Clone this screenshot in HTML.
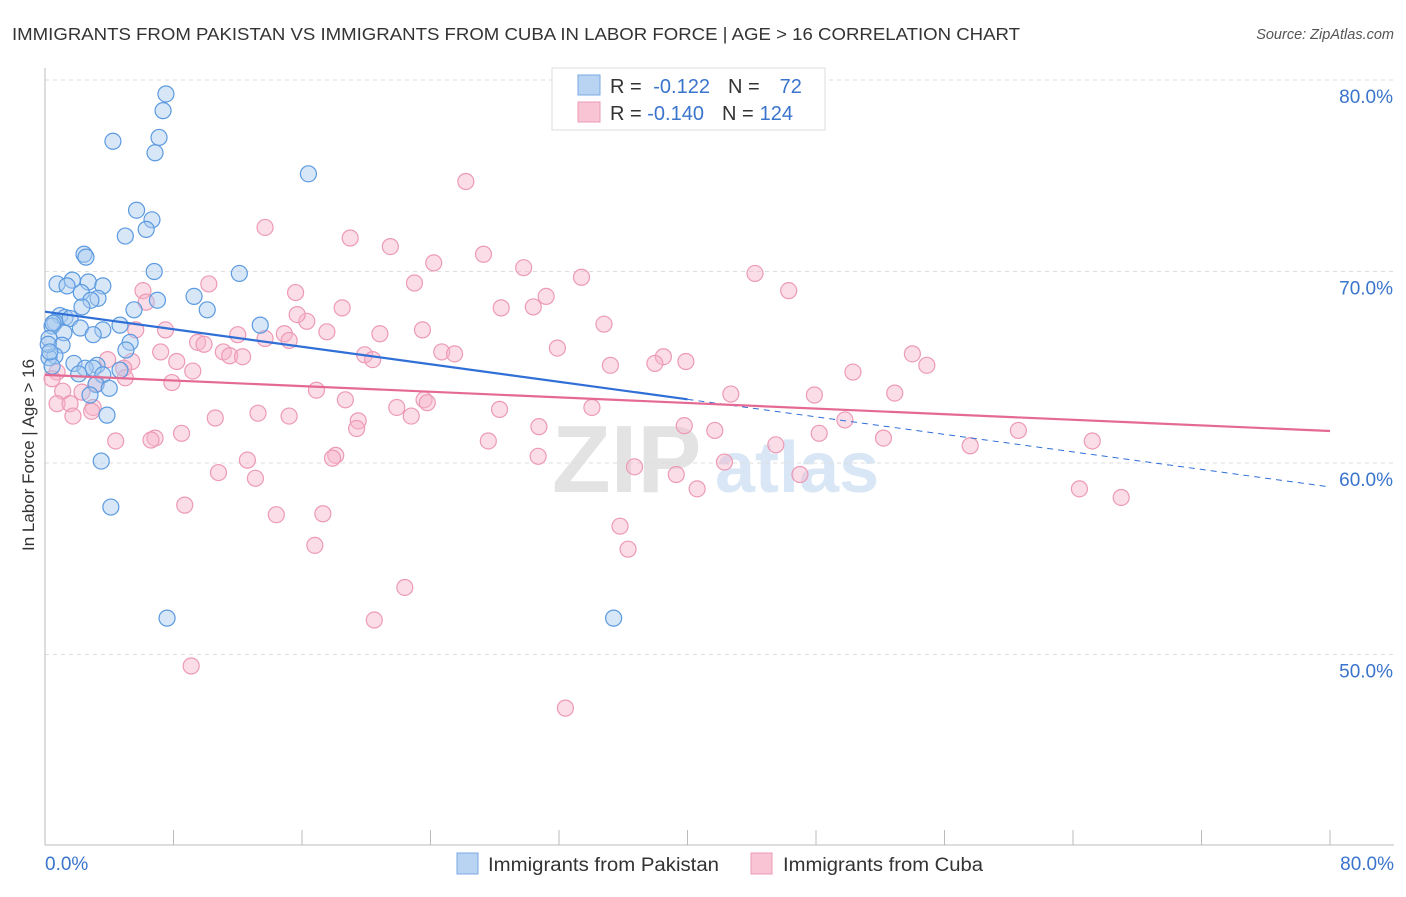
<!DOCTYPE html>
<html><head><meta charset="utf-8"><style>
body{margin:0;background:#fff;font-family:"Liberation Sans",sans-serif}
svg text{font-family:"Liberation Sans",sans-serif}
</style></head><body>
<svg id="c" width="1406" height="892" xmlns="http://www.w3.org/2000/svg">
<text x="12" y="40" font-size="17.5" fill="#333" textLength="1008" lengthAdjust="spacingAndGlyphs">IMMIGRANTS FROM PAKISTAN VS IMMIGRANTS FROM CUBA IN LABOR FORCE | AGE &gt; 16 CORRELATION CHART</text>
<text x="1394" y="39" font-size="14.5" fill="#555" font-style="italic" text-anchor="end">Source: ZipAtlas.com</text>
<text transform="translate(34,455) rotate(-90)" font-size="17" fill="#333" text-anchor="middle">In Labor Force | Age &gt; 16</text>
<g><text x="552" y="492" font-size="96" fill="#e3e3e3" font-family="Liberation Serif" font-weight="bold">ZIP</text><text x="715" y="492" font-size="72" fill="#d8e6f6" font-weight="bold">atlas</text></g>
<g id="grid"></g><g id="pts"></g><g id="trend"></g>
<g>
<rect x="552" y="68" width="273" height="62" fill="#fff" stroke="#ddd"/>
<rect x="578" y="75" width="22" height="20" fill="#b9d3f3" stroke="#7aa8e4"/>
<rect x="578" y="102" width="22" height="20" fill="#f9c5d5" stroke="#ec9ab5"/>
<text x="610" y="93" font-size="20" fill="#333">R = <tspan fill="#3a74cc" dx="6">-0.122</tspan><tspan dx="18" fill="#333">N =</tspan><tspan dx="20" fill="#3a74cc">72</tspan></text>
<text x="610" y="120" font-size="20" fill="#333">R = <tspan fill="#3a74cc">-0.140</tspan><tspan dx="18" fill="#333">N =</tspan><tspan dx="6" fill="#3a74cc">124</tspan></text>
</g>
<g>
<rect x="457" y="853" width="21" height="21" fill="#b9d3f3" stroke="#7aa8e4"/>
<text x="488" y="871" font-size="19" fill="#333" textLength="231" lengthAdjust="spacingAndGlyphs">Immigrants from Pakistan</text>
<rect x="751" y="853" width="21" height="21" fill="#f9c5d5" stroke="#ec9ab5"/>
<text x="783" y="871" font-size="19" fill="#333" textLength="200" lengthAdjust="spacingAndGlyphs">Immigrants from Cuba</text>
</g>
</svg>
<script>
const yTicks=[50,60,70,80];
const xTickLabels=["0.0%","80.0%"];
const pakX=[7.53,7.35,4.23,7.1,6.85,16.4,5.7,6.66,6.3,5.0,2.43,2.55,6.8,12.1,0.75,1.7,2.7,1.37,3.6,2.26,3.3,2.86,9.28,7.0,2.3,5.54,10.1,0.93,1.25,1.56,0.62,0.44,4.67,13.4,2.2,3.6,1.18,3.0,0.25,5.3,1.06,5.04,0.62,0.25,1.8,3.24,0.44,2.5,3.0,4.67,2.1,3.6,3.17,4.0,2.8,3.86,3.5,4.1,7.6,35.4,0.2,0.3,0.5];
const pakY=[79.27,78.4,76.8,77.0,76.2,75.1,73.2,72.7,72.2,71.85,70.9,70.75,70.0,69.9,69.35,69.55,69.45,69.25,69.25,68.9,68.6,68.5,68.7,68.5,68.15,68.0,68.0,67.7,67.6,67.55,67.35,67.15,67.2,67.2,67.05,66.95,66.8,66.7,66.5,66.3,66.15,65.9,65.6,65.5,65.2,65.1,65.05,64.95,64.95,64.85,64.65,64.6,64.1,63.9,63.55,62.5,60.1,57.7,51.9,51.9,66.2,65.8,67.3];
const cubX=[26.2,13.7,19.0,21.5,27.3,24.2,29.8,44.2,33.4,23.0,10.2,46.3,6.1,15.6,31.2,6.3,30.4,28.4,18.5,16.3,15.7,34.8,23.5,17.55,7.5,5.65,20.85,14.9,12.0,13.7,15.2,9.5,9.9,31.9,11.1,7.2,24.7,25.5,19.9,11.5,12.3,54.0,38.5,20.4,39.9,37.97,8.2,5.4,35.2,54.9,4.9,3.9,9.2,0.75,50.3,0.44,5.0,7.9,3.2,16.9,1.1,2.3,42.7,52.9,47.9,18.7,23.6,23.8,0.75,1.56,3.0,2.9,21.9,34.05,28.3,13.26,1.74,15.2,10.6,22.8,49.8,19.5,30.75,39.8,19.4,41.7,60.6,48.2,8.5,6.85,6.6,27.6,52.2,65.2,4.4,45.5,57.6,18.1,17.9,12.6,30.7,42.3,36.7,39.3,10.8,47.0,13.1,40.6,64.4,67.0,8.7,17.3,14.4,35.8,16.8,36.3,22.4,20.5,9.1,32.4];
const cubY=[74.7,72.3,71.75,71.3,70.9,70.45,70.2,69.9,69.7,69.4,69.35,69.0,69.0,68.9,68.7,68.4,68.15,68.1,68.1,67.4,67.75,67.25,66.95,66.85,66.95,66.95,66.75,66.75,66.7,66.5,66.4,66.3,66.2,66.0,65.8,65.8,65.8,65.7,65.65,65.6,65.55,65.7,65.55,65.4,65.3,65.2,65.3,65.3,65.1,65.1,64.95,65.4,64.8,64.75,64.75,64.4,64.45,64.2,64.15,63.8,63.75,63.7,63.6,63.65,63.55,63.3,63.3,63.15,63.1,63.1,62.9,62.7,62.9,62.9,62.8,62.6,62.45,62.45,62.35,62.45,62.25,62.2,61.9,61.95,61.8,61.7,61.7,61.55,61.55,61.3,61.2,61.15,61.3,61.15,61.15,60.95,60.9,60.4,60.25,60.15,60.35,60.05,59.8,59.4,59.5,59.4,59.2,58.65,58.65,58.2,57.8,57.35,57.3,56.7,55.7,55.5,53.5,51.8,49.4,47.2];
const pakTrend=[67.9,58.75];
const cubTrend=[64.6,61.67];
const NS='http://www.w3.org/2000/svg';
const X=v=>45+v/80*1285, Y=v=>463-(v-60)*19.15;
function mk(t,a,p){const e=document.createElementNS(NS,t);for(const k in a)e.setAttribute(k,a[k]);p.appendChild(e);return e;}
const g=document.getElementById('grid');
yTicks.forEach(t=>{const l=mk('line',{x1:45,x2:1394,y1:Y(t),y2:Y(t),stroke:'#ddd','stroke-dasharray':'4,4'},g);


const tx=mk('text',{x:1393,y:Y(t)+23,'font-size':19,fill:'#3a74cc','text-anchor':'end'},g);tx.textContent=t.toFixed(1)+'%';

});
mk('line',{x1:45,x2:45,y1:68,y2:845,stroke:'#bbb'},g);
mk('line',{x1:45,x2:1394,y1:845,y2:845,stroke:'#bbb'},g);
for(let i=0;i<=10;i++){mk('line',{x1:X(i*8),x2:X(i*8),y1:830,y2:845,stroke:'#bbb'},g);}
const xl=mk('text',{x:45,y:870,'font-size':19,fill:'#3a74cc'},g);xl.textContent=xTickLabels[0];


const xr=mk('text',{x:1394,y:870,'font-size':19,fill:'#3a74cc','text-anchor':'end'},g);xr.textContent=xTickLabels[1];


const P=document.getElementById('pts');
cubX.forEach((x,i)=>{const c=mk('circle',{cx:X(x),cy:Y(cubY[i]),r:8,fill:'rgba(246,180,201,0.45)',stroke:'#ec9ab5','stroke-width':1.2},P);

});
pakX.forEach((x,i)=>{const c=mk('circle',{cx:X(x),cy:Y(pakY[i]),r:8,fill:'rgba(169,201,239,0.45)',stroke:'#5b9ae0','stroke-width':1.2},P);

});
const T=document.getElementById('trend');
const yAt=(tr,x)=>tr[0]+(tr[1]-tr[0])*x/80;
const l1=mk('line',{x1:X(0),y1:Y(pakTrend[0]),x2:X(40),y2:Y(yAt(pakTrend,40)),stroke:'#2f6fd6','stroke-width':2.2},T);


const l2=mk('line',{x1:X(40),y1:Y(yAt(pakTrend,40)),x2:X(80),y2:Y(pakTrend[1]),stroke:'#2f6fd6','stroke-width':1,'stroke-dasharray':'6,5'},T);


const l3=mk('line',{x1:X(0),y1:Y(cubTrend[0]),x2:X(80),y2:Y(cubTrend[1]),stroke:'#e56a93','stroke-width':2.2},T);


</script>
</body></html>
